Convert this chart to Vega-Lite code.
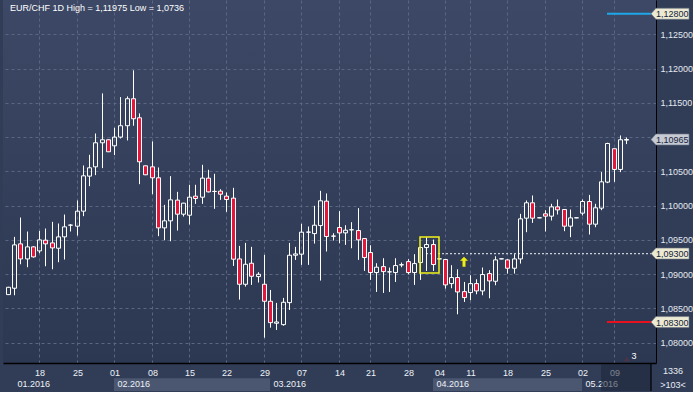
{
  "$schema": "https://vega.github.io/schema/vega-lite/v6.json",
  "background": "#313d57",
  "padding": {"left": 3, "top": 0, "right": 0, "bottom": 0},
  "spacing": 0,
  "config": {"view": {"stroke": null}, "font": "Liberation Sans"},
  "resolve": {"scale": {"x": "shared", "y": "independent"}},
  "datasets": {
    "candles": [
      {"i":0,"o":1.08701,"h":1.08815,"l":1.08695,"c":1.08808},
      {"i":1,"o":1.08794,"h":1.09544,"l":1.08692,"c":1.09427},
      {"i":2,"o":1.09442,"h":1.09826,"l":1.09144,"c":1.09222},
      {"i":3,"o":1.09222,"h":1.09622,"l":1.09101,"c":1.09398},
      {"i":4,"o":1.09398,"h":1.09407,"l":1.09242,"c":1.09252},
      {"i":5,"o":1.09339,"h":1.09631,"l":1.09305,"c":1.095},
      {"i":6,"o":1.09495,"h":1.09666,"l":1.09115,"c":1.09442},
      {"i":7,"o":1.09456,"h":1.09763,"l":1.09071,"c":1.09383},
      {"i":8,"o":1.09378,"h":1.09739,"l":1.09174,"c":1.09544},
      {"i":9,"o":1.09544,"h":1.0987,"l":1.09213,"c":1.0969},
      {"i":10,"o":1.09714,"h":1.09729,"l":1.09622,"c":1.09716},
      {"i":11,"o":1.097,"h":1.10075,"l":1.09563,"c":1.09919},
      {"i":12,"o":1.09919,"h":1.10586,"l":1.09846,"c":1.10435},
      {"i":13,"o":1.1043,"h":1.10742,"l":1.10284,"c":1.10552},
      {"i":14,"o":1.10566,"h":1.11053,"l":1.10445,"c":1.10917},
      {"i":15,"o":1.10917,"h":1.11638,"l":1.10547,"c":1.10961},
      {"i":16,"o":1.10961,"h":1.10966,"l":1.10781,"c":1.10786},
      {"i":17,"o":1.10873,"h":1.11136,"l":1.10737,"c":1.11},
      {"i":18,"o":1.11,"h":1.11584,"l":1.1098,"c":1.11166},
      {"i":19,"o":1.11166,"h":1.11594,"l":1.10951,"c":1.1156},
      {"i":20,"o":1.1156,"h":1.11975,"l":1.11166,"c":1.11268},
      {"i":21,"o":1.11282,"h":1.11346,"l":1.10313,"c":1.1064},
      {"i":22,"o":1.10581,"h":1.10586,"l":1.10445,"c":1.1045},
      {"i":23,"o":1.10566,"h":1.10937,"l":1.10167,"c":1.10406},
      {"i":24,"o":1.10406,"h":1.10557,"l":1.09554,"c":1.09675},
      {"i":25,"o":1.09675,"h":1.10011,"l":1.09495,"c":1.09778},
      {"i":26,"o":1.09778,"h":1.1043,"l":1.0948,"c":1.10084},
      {"i":27,"o":1.1008,"h":1.10201,"l":1.09636,"c":1.09875},
      {"i":28,"o":1.09875,"h":1.10041,"l":1.09841,"c":1.10036},
      {"i":29,"o":1.0986,"h":1.10304,"l":1.09724,"c":1.10123},
      {"i":30,"o":1.10138,"h":1.10304,"l":1.10026,"c":1.10104},
      {"i":31,"o":1.10123,"h":1.10596,"l":1.10026,"c":1.10401},
      {"i":32,"o":1.10401,"h":1.10523,"l":1.10192,"c":1.10201},
      {"i":33,"o":1.10206,"h":1.10464,"l":1.09953,"c":1.10208},
      {"i":34,"o":1.10211,"h":1.1024,"l":1.10084,"c":1.10167},
      {"i":35,"o":1.10138,"h":1.10192,"l":1.09909,"c":1.10089},
      {"i":36,"o":1.10109,"h":1.1026,"l":1.0912,"c":1.09218},
      {"i":37,"o":1.09222,"h":1.09412,"l":1.08628,"c":1.08852},
      {"i":38,"o":1.08852,"h":1.09456,"l":1.08818,"c":1.09144},
      {"i":39,"o":1.09159,"h":1.09398,"l":1.08843,"c":1.08969},
      {"i":40,"o":1.08964,"h":1.09028,"l":1.08877,"c":1.08998},
      {"i":41,"o":1.08852,"h":1.09281,"l":1.08073,"c":1.08604},
      {"i":42,"o":1.08604,"h":1.08769,"l":1.08219,"c":1.08292},
      {"i":43,"o":1.08283,"h":1.0858,"l":1.08185,"c":1.08302},
      {"i":44,"o":1.08263,"h":1.08653,"l":1.08248,"c":1.08589},
      {"i":45,"o":1.08584,"h":1.09456,"l":1.08477,"c":1.09276},
      {"i":46,"o":1.09276,"h":1.09398,"l":1.09208,"c":1.09295},
      {"i":47,"o":1.09291,"h":1.09734,"l":1.09135,"c":1.09612},
      {"i":48,"o":1.09612,"h":1.09695,"l":1.09135,"c":1.09614},
      {"i":49,"o":1.09592,"h":1.09997,"l":1.09446,"c":1.09714},
      {"i":50,"o":1.09709,"h":1.10216,"l":1.08906,"c":1.1007},
      {"i":51,"o":1.10065,"h":1.10177,"l":1.0933,"c":1.09549},
      {"i":52,"o":1.09554,"h":1.09597,"l":1.0949,"c":1.09556},
      {"i":53,"o":1.0968,"h":1.09919,"l":1.09451,"c":1.09602},
      {"i":54,"o":1.09602,"h":1.09714,"l":1.09427,"c":1.09641},
      {"i":55,"o":1.09646,"h":1.09758,"l":1.09378,"c":1.09648},
      {"i":56,"o":1.09636,"h":1.09963,"l":1.09208,"c":1.095},
      {"i":57,"o":1.09519,"h":1.09524,"l":1.09047,"c":1.09242},
      {"i":58,"o":1.09315,"h":1.09422,"l":1.08916,"c":1.09023},
      {"i":59,"o":1.09023,"h":1.09159,"l":1.0874,"c":1.09101},
      {"i":60,"o":1.0911,"h":1.09232,"l":1.08726,"c":1.09037},
      {"i":61,"o":1.09032,"h":1.09096,"l":1.0874,"c":1.09034},
      {"i":62,"o":1.09023,"h":1.09232,"l":1.08886,"c":1.09125},
      {"i":63,"o":1.09135,"h":1.09169,"l":1.09101,"c":1.09137},
      {"i":64,"o":1.09183,"h":1.09218,"l":1.08998,"c":1.09023},
      {"i":65,"o":1.09023,"h":1.09291,"l":1.08843,"c":1.09154},
      {"i":66,"o":1.09169,"h":1.09398,"l":1.08916,"c":1.09388},
      {"i":67,"o":1.09388,"h":1.09539,"l":1.09047,"c":1.09432},
      {"i":68,"o":1.09432,"h":1.09505,"l":1.09047,"c":1.0914},
      {"i":69,"o":1.09222,"h":1.09232,"l":1.09213,"c":1.09224},
      {"i":70,"o":1.09213,"h":1.09222,"l":1.08789,"c":1.08843},
      {"i":71,"o":1.08862,"h":1.0913,"l":1.08794,"c":1.0895},
      {"i":72,"o":1.0895,"h":1.09071,"l":1.08414,"c":1.0874},
      {"i":73,"o":1.08745,"h":1.08886,"l":1.08594,"c":1.08658},
      {"i":74,"o":1.08731,"h":1.08984,"l":1.08619,"c":1.08862},
      {"i":75,"o":1.08862,"h":1.08925,"l":1.08706,"c":1.08755},
      {"i":76,"o":1.08755,"h":1.09096,"l":1.08692,"c":1.08994},
      {"i":77,"o":1.09008,"h":1.09057,"l":1.08648,"c":1.08901},
      {"i":78,"o":1.08896,"h":1.09261,"l":1.08838,"c":1.09208},
      {"i":79,"o":1.09222,"h":1.09227,"l":1.09217,"c":1.09224},
      {"i":80,"o":1.09208,"h":1.09222,"l":1.09008,"c":1.09086},
      {"i":81,"o":1.09086,"h":1.09291,"l":1.09008,"c":1.09222},
      {"i":82,"o":1.09222,"h":1.0988,"l":1.09154,"c":1.09807},
      {"i":83,"o":1.09817,"h":1.10075,"l":1.09612,"c":1.10041},
      {"i":84,"o":1.10041,"h":1.10148,"l":1.09748,"c":1.09817},
      {"i":85,"o":1.09821,"h":1.09826,"l":1.09816,"c":1.09823},
      {"i":86,"o":1.0988,"h":1.09933,"l":1.09622,"c":1.09846},
      {"i":87,"o":1.09846,"h":1.10026,"l":1.09783,"c":1.09982},
      {"i":88,"o":1.09982,"h":1.10089,"l":1.0987,"c":1.09938},
      {"i":89,"o":1.09943,"h":1.09948,"l":1.09627,"c":1.097},
      {"i":90,"o":1.097,"h":1.09943,"l":1.09539,"c":1.09821},
      {"i":91,"o":1.09821,"h":1.09826,"l":1.09816,"c":1.09823},
      {"i":92,"o":1.0989,"h":1.10089,"l":1.09856,"c":1.1006},
      {"i":93,"o":1.1006,"h":1.10157,"l":1.09578,"c":1.09729},
      {"i":94,"o":1.09729,"h":1.10026,"l":1.09685,"c":1.09968},
      {"i":95,"o":1.09963,"h":1.10489,"l":1.09933,"c":1.10347},
      {"i":96,"o":1.10343,"h":1.10917,"l":1.10328,"c":1.10907},
      {"i":97,"o":1.1083,"h":1.10835,"l":1.10347,"c":1.10528},
      {"i":98,"o":1.10528,"h":1.11024,"l":1.10489,"c":1.10961},
      {"i":99,"o":1.10956,"h":1.10995,"l":1.10898,"c":1.10965}
    ]
  },
  "vconcat": [
    {
      "width": 653,
      "height": 363,
      "view": {"stroke": null, "fill": {"x1": 0, "y1": 0, "x2": 0, "y2": 1, "gradient": "linear", "stops": [{"offset": 0, "color": "#3c4865"}, {"offset": 1, "color": "#2c3851"}]}},
      "layer": [
        {
          "data": {"values": [{"s": 67, "e": 103, "p": 1.093}]},
          "mark": {"type": "rule", "color": "#c9cdd6", "strokeWidth": 1.3, "strokeDash": [2, 2]},
          "encoding": {
            "x": {"field": "s", "type": "quantitative", "scale": {"domain": [0, 103], "nice": false, "zero": false, "round": true},
              "axis": {"title": null, "orient": "bottom", "values": [5, 11, 17, 23, 29, 35, 41, 47, 53, 58, 64, 70, 74, 80, 86, 92, 97], "grid": true, "gridColor": "#5a6682", "gridDash": [3, 3], "gridWidth": 1, "labels": false, "ticks": false, "domain": true, "domainColor": "#000000", "domainWidth": 1.5}},
            "x2": {"field": "e"},
            "y": {"field": "p", "type": "quantitative", "scale": {"domain": [1.07703, 1.13001], "nice": false, "zero": false},
              "axis": {"title": null, "orient": "right", "values": [1.08, 1.085, 1.09, 1.095, 1.1, 1.105, 1.11, 1.115, 1.12, 1.125], "grid": true, "gridColor": "#5a6682", "gridDash": [3, 3], "gridWidth": 1, "ticks": false, "domain": true, "domainColor": "#000000", "domainWidth": 1, "labelColor": "#e4e9f1", "labelFont": "Liberation Sans", "labelFontSize": 9, "labelPadding": 4, "labelExpr": "abs(datum.value - 1.11) < 0.00001 ? '' : replace(format(datum.value, '.5f'), '.', ',')"}}
          }
        },
        {
          "data": {"values": [{"s": 96, "e": 103, "p": 1.128}]},
          "mark": {"type": "rule", "color": "#1ea6e8", "strokeWidth": 2},
          "encoding": {"x": {"field": "s", "type": "quantitative", "axis": {"title": null}}, "x2": {"field": "e"}, "y": {"field": "p", "type": "quantitative", "axis": {"title": null}}}
        },
        {
          "data": {"values": [{"s": 96, "e": 103, "p": 1.083}]},
          "mark": {"type": "rule", "color": "#e8101e", "strokeWidth": 2},
          "encoding": {"x": {"field": "s", "type": "quantitative", "axis": {"title": null}}, "x2": {"field": "e"}, "y": {"field": "p", "type": "quantitative", "axis": {"title": null}}}
        },
        {
          "data": {"name": "candles"},
          "transform": [{"calculate": "max(datum.o, datum.c)", "as": "top"}, {"calculate": "min(datum.o, datum.c)", "as": "bot"}],
          "layer": [
            {
              "mark": {"type": "rule", "color": "#ffffff", "strokeWidth": 1, "clip": true, "xOffset": 0.5},
              "encoding": {"x": {"field": "i", "type": "quantitative", "axis": {"title": null}}, "y": {"field": "h", "type": "quantitative", "axis": {"title": null}}, "y2": {"field": "top"}}
            },
            {
              "mark": {"type": "rule", "color": "#ffffff", "strokeWidth": 1, "clip": true, "xOffset": 0.5},
              "encoding": {"x": {"field": "i", "type": "quantitative", "axis": {"title": null}}, "y": {"field": "bot", "type": "quantitative", "axis": {"title": null}}, "y2": {"field": "l"}}
            },
            {
              "mark": {"type": "bar", "width": 4, "stroke": "#ffffff", "strokeWidth": 1, "clip": true, "orient": "vertical", "xOffset": 0.5},
              "encoding": {
                "x": {"field": "i", "type": "quantitative", "axis": {"title": null}},
                "y": {"field": "o", "type": "quantitative", "axis": {"title": null}},
                "y2": {"field": "c"},
                "fill": {"condition": {"test": "datum.c < datum.o", "value": "#e3173c"}, "value": "transparent"}
              }
            }
          ]
        },
        {
          "data": {"values": [{"s": 66, "e": 69, "lo": 1.09015, "hi": 1.09541}]},
          "mark": {"type": "rect", "filled": false, "stroke": "#f2f21a", "strokeWidth": 1.5},
          "encoding": {"x": {"field": "s", "type": "quantitative", "axis": {"title": null}}, "x2": {"field": "e"}, "y": {"field": "lo", "type": "quantitative", "axis": {"title": null}}, "y2": {"field": "hi"}}
        },
        {
          "data": {"values": [{"i": 73, "p": 1.0918}]},
          "mark": {"type": "point", "shape": "M0,-1 L0.8,-0.2 L0.3,-0.2 L0.3,1 L-0.3,1 L-0.3,-0.2 L-0.8,-0.2 Z", "filled": true, "fill": "#eeee10", "opacity": 1, "size": 100, "strokeWidth": 0},
          "encoding": {"x": {"field": "i", "type": "quantitative", "axis": {"title": null}}, "y": {"field": "p", "type": "quantitative", "axis": {"title": null}}}
        },
        {
          "data": {"values": [{"t": "EUR/CHF 1D High = 1,11975 Low = 1,0736"}]},
          "mark": {"type": "text", "align": "left", "baseline": "top", "dx": 2, "dy": 3.5, "font": "Liberation Sans", "fontSize": 9, "fill": "#ffffff"},
          "encoding": {"x": {"datum": 0, "type": "quantitative", "axis": {"title": null}}, "y": {"datum": 1.13001, "type": "quantitative", "axis": {"title": null}}, "text": {"field": "t"}}
        },
        {
          "data": {"values": [{"i": 99.2, "p": 1.07762}]},
          "mark": {"type": "point", "shape": "triangle-up", "filled": true, "fill": "#4c3446", "opacity": 1, "size": 30, "strokeWidth": 0},
          "encoding": {"x": {"field": "i", "type": "quantitative", "axis": {"title": null}}, "y": {"field": "p", "type": "quantitative", "axis": {"title": null}}}
        },
        {
          "data": {"values": [{"i": 100.3, "t": "3"}]},
          "mark": {"type": "text", "align": "center", "baseline": "bottom", "dy": -2, "font": "Liberation Sans", "fontSize": 9, "fill": "#ffffff"},
          "encoding": {"x": {"field": "i", "type": "quantitative", "axis": {"title": null}}, "y": {"datum": 1.07703, "type": "quantitative", "axis": {"title": null}}, "text": {"field": "t"}}
        },
        {
          "data": {"values": [{"p": 1.128, "t": "1,12800", "k": "a"}, {"p": 1.10965, "t": "1,10965", "k": "b"}, {"p": 1.093, "t": "1,09300", "k": "a"}, {"p": 1.083, "t": "1,08300", "k": "a"}]},
          "layer": [
            {
              "mark": {"type": "point", "shape": "M0,0 L0.26,-0.29 L2,-0.29 L2,0.29 L0.26,0.29 Z", "filled": true, "opacity": 1, "size": 1444, "stroke": "#6b7384", "strokeWidth": 0.6, "clip": false},
              "encoding": {
                "x": {"datum": 103, "type": "quantitative", "axis": {"title": null}},
                "y": {"field": "p", "type": "quantitative", "axis": {"title": null}},
                "fill": {"field": "k", "type": "nominal", "scale": {"domain": ["a", "b"], "range": ["#ecead2", "#c5cad3"]}, "legend": null}
              }
            },
            {
              "mark": {"type": "text", "align": "left", "baseline": "middle", "dx": 5, "dy": 0.5, "font": "Liberation Sans", "fontSize": 9, "fill": "#15233b", "clip": false},
              "encoding": {"x": {"datum": 103, "type": "quantitative", "axis": {"title": null}}, "y": {"field": "p", "type": "quantitative", "axis": {"title": null}}, "text": {"field": "t"}}
            }
          ]
        }
      ]
    },
    {
      "width": 653,
      "height": 27,
      "layer": [
        {
          "data": {"values": [{"s": 17, "e": 42}, {"s": 68, "e": 92}]},
          "mark": {"type": "rect", "fill": "#4b5770"},
          "encoding": {
            "x": {"field": "s", "type": "quantitative", "scale": {"domain": [0, 103], "nice": false, "zero": false, "round": true}, "axis": null},
            "x2": {"field": "e"},
            "y": {"datum": 1.05, "type": "quantitative", "scale": {"domain": [0, 2], "reverse": true, "nice": false, "zero": false}, "axis": null},
            "y2": {"datum": 2}
          }
        },
        {
          "data": {"values": [{"i": 5, "t": "18"}, {"i": 11, "t": "25"}, {"i": 17, "t": "01"}, {"i": 23, "t": "08"}, {"i": 29, "t": "15"}, {"i": 35, "t": "22"}, {"i": 41, "t": "29"}, {"i": 47, "t": "07"}, {"i": 53, "t": "14"}, {"i": 58, "t": "21"}, {"i": 64, "t": "28"}, {"i": 69, "t": "04"}, {"i": 74, "t": "11"}, {"i": 80, "t": "18"}, {"i": 86, "t": "25"}, {"i": 92, "t": "02"}, {"i": 97, "t": "09"}]},
          "mark": {"type": "text", "align": "center", "baseline": "middle", "dx": 1, "dy": 2, "font": "Liberation Sans", "fontSize": 9, "fill": "#eef2f8"},
          "encoding": {"x": {"field": "i", "type": "quantitative", "axis": null}, "y": {"datum": 0.5, "type": "quantitative", "axis": null}, "text": {"field": "t"}}
        },
        {
          "data": {"values": [{"i": 1, "t": "01.2016"}, {"i": 17, "t": "02.2016"}, {"i": 42, "t": "03.2016"}, {"i": 68, "t": "04.2016"}, {"i": 92, "t": "05.2016"}]},
          "mark": {"type": "text", "align": "left", "baseline": "middle", "dx": 3.5, "font": "Liberation Sans", "fontSize": 9, "fill": "#eef2f8"},
          "encoding": {"x": {"field": "i", "type": "quantitative", "axis": null}, "y": {"datum": 1.5, "type": "quantitative", "axis": null}, "text": {"field": "t"}}
        },
        {
          "data": {"values": [{"s": 95, "e": 103}]},
          "mark": {"type": "rect", "fill": "#1c2436", "opacity": 0.55},
          "encoding": {"x": {"field": "s", "type": "quantitative", "axis": null}, "x2": {"field": "e"}, "y": {"datum": 0, "type": "quantitative", "axis": null}, "y2": {"datum": 2}}
        },
        {
          "data": {"values": [{"x": 103}]},
          "mark": {"type": "rule", "color": "#000000", "strokeWidth": 1.2, "clip": false},
          "encoding": {"x": {"field": "x", "type": "quantitative", "axis": null}, "y": {"datum": 0, "type": "quantitative", "axis": null}, "y2": {"datum": 2}}
        },
        {
          "data": {"values": [{"r": 0.5, "t": "1336"}, {"r": 1.5, "t": ">103<"}]},
          "mark": {"type": "text", "align": "center", "baseline": "middle", "dx": 22, "dy": 0.5, "font": "Liberation Sans", "fontSize": 9, "fill": "#e8ecf4", "clip": false},
          "encoding": {"x": {"datum": 103, "type": "quantitative", "axis": null}, "y": {"field": "r", "type": "quantitative", "axis": null}, "text": {"field": "t"}}
        }
      ]
    }
  ]
}
